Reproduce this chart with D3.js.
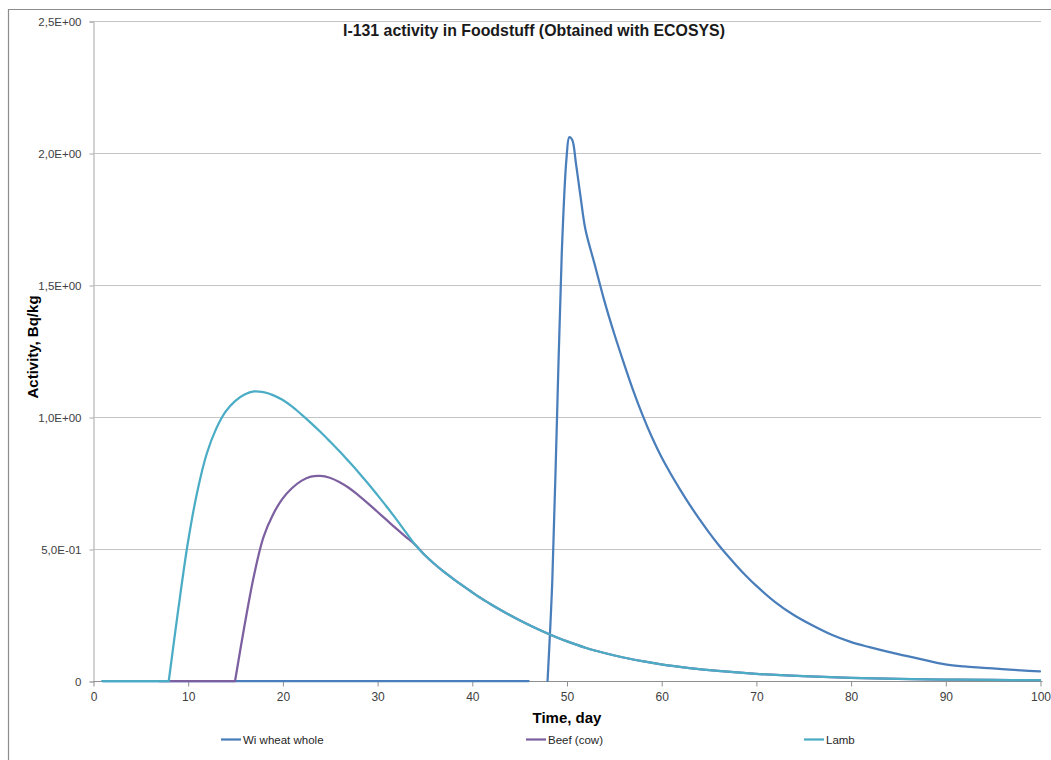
<!DOCTYPE html>
<html>
<head>
<meta charset="utf-8">
<script src="https://cdn.jsdelivr.net/npm/d3@7"></script>
<style>
  html, body { margin: 0; padding: 0; background: #fff; }
  svg { display: block; }
</style>
</head>
<body>
<svg id="chart" width="1051" height="760"></svg>
<script>
// I-131 activity (Bq/kg) in foodstuff over time, ECOSYS model output.
// A null value splits a series into separately smoothed pieces.
const chartTitle = "I-131 activity in Foodstuff (Obtained with ECOSYS)";
const xTitle = "Time, day";
const yTitle = "Activity, Bq/kg";

const seriesNames = ["Wi wheat whole", "Beef (cow)", "Lamb"];
const seriesColors = ["#4a7ebb", "#7d60a0", "#4bacc6"];

// Winter wheat: zero until day 46, then harvest spike from day 48
const wheatDays = [1, 46, 47, 48, 48.5, 49, 49.5, 50, 50.3, 50.6, 51, 51.5, 52, 53, 54, 55, 56, 57, 58, 59, 60,
  61, 62, 63, 64, 65, 66, 67, 68, 69, 70, 72, 74, 76, 78, 80, 82, 84, 86, 88, 90, 92, 94, 96, 98, 100];
const wheatValues = [0, 0, null, 0, 0.38, 1.0, 1.62, 1.98, 2.06, 2.05, 1.96, 1.83, 1.71, 1.575, 1.44, 1.32, 1.21, 1.105, 1.01, 0.925, 0.85,
  0.785, 0.725, 0.668, 0.615, 0.565, 0.518, 0.475, 0.435, 0.397, 0.362, 0.30, 0.25, 0.21, 0.175, 0.148, 0.128, 0.11, 0.094, 0.078, 0.063,
  0.055, 0.05, 0.045, 0.04, 0.036];

// Beef (cow)
const beefDays = [7, 15, 15, 15, 16, 17, 18, 19, 20, 21, 22, 23, 24, 25, 26, 27, 28, 29, 30, 31, 32, 33, 34, 35, 36, 37, 38, 39, 40,
  41, 42, 43, 44, 45, 46, 47, 48, 49, 50, 52, 54, 56, 58, 60, 63, 66, 70, 75, 80, 85, 90, 95, 100];
const beefValues = [0, 0, null, 0, 0.21, 0.40, 0.545, 0.63, 0.69, 0.73, 0.758, 0.774, 0.777, 0.77, 0.754, 0.732, 0.704, 0.674, 0.642, 0.610, 0.578, 0.547, 0.517, 0.478, 0.445, 0.415, 0.388, 0.362, 0.337,
  0.313, 0.291, 0.27, 0.25, 0.231, 0.213, 0.196, 0.18, 0.165, 0.151, 0.126, 0.106, 0.089, 0.075, 0.063, 0.049, 0.038, 0.027, 0.018, 0.012, 0.008, 0.0055, 0.004, 0.003];

// Lamb
const lambDays = [1, 8, 8, 8, 9, 10, 11, 12, 13, 14, 15, 16, 17, 18, 19, 20, 21, 22, 23, 24, 25, 26, 27, 28, 29, 30, 31, 32, 33, 34, 35, 36, 37, 38, 39, 40,
  41, 42, 43, 44, 45, 46, 47, 48, 49, 50, 52, 54, 56, 58, 60, 63, 66, 70, 75, 80, 85, 90, 95, 100];
const lambValues = [0, 0, null, 0, 0.27, 0.52, 0.715, 0.86, 0.955, 1.02, 1.06, 1.085, 1.097, 1.094, 1.083, 1.065, 1.04, 1.01, 0.978, 0.944, 0.908, 0.871, 0.832, 0.792, 0.75, 0.706, 0.661, 0.614, 0.565, 0.517, 0.478, 0.445, 0.415, 0.388, 0.362, 0.337,
  0.313, 0.291, 0.27, 0.25, 0.231, 0.213, 0.196, 0.18, 0.165, 0.151, 0.126, 0.106, 0.089, 0.075, 0.063, 0.049, 0.038, 0.027, 0.018, 0.012, 0.008, 0.0055, 0.004, 0.003];

const xTicks = [0, 10, 20, 30, 40, 50, 60, 70, 80, 90, 100];
const yTicks = [0, 0.5, 1.0, 1.5, 2.0, 2.5];
const yTickLabels = ["0", "5,0E-01", "1,0E+00", "1,5E+00", "2,0E+00", "2,5E+00"];

const svg = d3.select("#chart");
const W = 1051, H = 760;
const plot = { left: 93, right: 1040, top: 21, bottom: 681 };

const x = d3.scaleLinear().domain([0, 100]).range([plot.left, plot.right]);
const y = d3.scaleLinear().domain([0, 2.5]).range([plot.bottom, plot.top]);

// chart frame
svg.append("path")
  .attr("d", `M8.5,${H + 5} V9.5 H${W + 5}`)
  .attr("fill", "none")
  .attr("stroke", "#8c8c8c")
  .attr("stroke-width", 1.2);

// horizontal gridlines
svg.append("g")
  .selectAll("line")
  .data(yTicks.filter(d => d > 0))
  .join("line")
  .attr("x1", plot.left)
  .attr("x2", plot.right + 1)
  .attr("y1", d => Math.round(y(d)) + 0.5)
  .attr("y2", d => Math.round(y(d)) + 0.5)
  .attr("stroke", "#c4c4c4")
  .attr("stroke-width", 1);

const tickFont = "'Liberation Sans', Arial, sans-serif";

// y axis
const yAxis = d3.axisLeft(y)
  .tickValues(yTicks)
  .tickSize(4)
  .tickPadding(8)
  .tickFormat((d, i) => yTickLabels[i]);
const gy = svg.append("g")
  .attr("transform", `translate(${plot.left + 0.5},0.5)`)
  .call(yAxis);
gy.select(".domain").attr("stroke", "#c4c4c4").attr("stroke-width", 1.5);
gy.selectAll(".tick line").attr("stroke", "#a6a6a6");
gy.selectAll(".tick text")
  .attr("font-family", tickFont)
  .attr("font-size", 11.5)
  .attr("fill", "#404040");

// x axis
const xAxis = d3.axisBottom(x)
  .tickValues(xTicks)
  .tickSize(5)
  .tickPadding(6)
  .tickSizeOuter(0);
const gx = svg.append("g")
  .attr("transform", `translate(0.5,${plot.bottom + 0.5})`)
  .call(xAxis);
gx.select(".domain").attr("stroke", "#8f8f8f").attr("stroke-width", 1.2)
  .attr("d", `M${plot.left},0H${plot.right + 2}`);
gx.selectAll(".tick line").attr("stroke", "#8f8f8f");
gx.selectAll(".tick text")
  .attr("font-family", tickFont)
  .attr("font-size", 12)
  .attr("fill", "#404040");

// series lines
const series = [
  { days: wheatDays, values: wheatValues },
  { days: beefDays, values: beefValues },
  { days: lambDays, values: lambValues }
];

const line = d3.line()
  .defined(d => d[1] !== null)
  .x(d => x(d[0]))
  .y(d => y(d[1]))
  .curve(d3.curveCatmullRom.alpha(0.5));

series.forEach((s, i) => {
  const pts = s.days.map((d, k) => [d, s.values[k]]);
  svg.append("path")
    .datum(pts)
    .attr("d", line)
    .attr("fill", "none")
    .attr("stroke", seriesColors[i])
    .attr("stroke-width", 2.25)
    .attr("stroke-linejoin", "round")
    .attr("stroke-linecap", "round");
});

// title
const title = svg.append("text")
  .attr("x", 534)
  .attr("y", 36)
  .attr("text-anchor", "middle")
  .attr("font-family", "'Liberation Sans Narrow', 'Liberation Sans', Arial, sans-serif")
  .attr("font-weight", "bold")
  .attr("font-size", 16.5)
  .attr("fill", "#1a1a1a")
  .text(chartTitle);
title.attr("textLength", 382).attr("lengthAdjust", "spacingAndGlyphs");

// axis titles
svg.append("text")
  .attr("x", 567)
  .attr("y", 723)
  .attr("text-anchor", "middle")
  .attr("font-family", "'Liberation Sans', Arial, sans-serif")
  .attr("font-weight", "bold")
  .attr("font-size", 15)
  .attr("fill", "#000")
  .text(xTitle);

svg.append("text")
  .attr("transform", "translate(38,347) rotate(-90)")
  .attr("text-anchor", "middle")
  .attr("font-family", "'Liberation Sans', Arial, sans-serif")
  .attr("font-weight", "bold")
  .attr("font-size", 15)
  .attr("fill", "#000")
  .text(yTitle);

// legend
const legendX = [221, 526, 804];
const legend = svg.append("g");
seriesNames.forEach((name, i) => {
  const g = legend.append("g").attr("transform", `translate(${legendX[i]},739.5)`);
  g.append("line")
    .attr("x1", 0).attr("x2", 20)
    .attr("stroke", seriesColors[i])
    .attr("stroke-width", 2.25);
  g.append("text")
    .attr("x", 22)
    .attr("dy", "0.35em")
    .attr("font-family", tickFont)
    .attr("font-size", 11.5)
    .attr("fill", "#262626")
    .text(name);
});
</script>
</body>
</html>
